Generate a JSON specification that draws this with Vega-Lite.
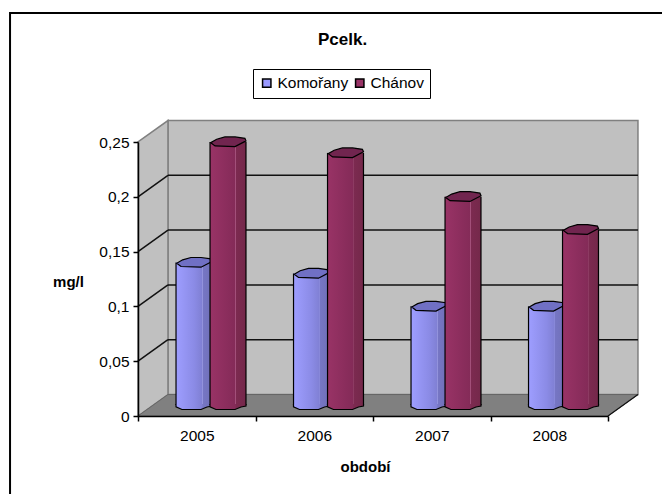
{
  "$schema": "https://vega.github.io/schema/vega-lite/v6.json",
  "autosize": "none",
  "width": 470,
  "height": 274,
  "padding": {"left": 138, "top": 142, "right": 54, "bottom": 78},
  "background": "white",
  "view": {"stroke": null},
  "config": {
    "font": "Liberation Sans",
    "legend": {"labelFont": "Liberation Sans", "labelFontSize": 15.5, "labelColor": "black"}
  },
  "title": {
    "text": "Pcelk.", "font": "Liberation Sans", "fontSize": 17, "fontWeight": "bold", "color": "black",
    "anchor": "start", "frame": "group", "dx": 180, "dy": 50, "baseline": "alphabetic", "offset": 0
  },
  "datasets": {
    "prumery": [
      {"rok": 2005, "stanice": "Komořany", "hodnota": 0.13},
      {"rok": 2006, "stanice": "Komořany", "hodnota": 0.12},
      {"rok": 2007, "stanice": "Komořany", "hodnota": 0.09},
      {"rok": 2008, "stanice": "Komořany", "hodnota": 0.09},
      {"rok": 2005, "stanice": "Chánov", "hodnota": 0.24},
      {"rok": 2006, "stanice": "Chánov", "hodnota": 0.23},
      {"rok": 2007, "stanice": "Chánov", "hodnota": 0.19},
      {"rok": 2008, "stanice": "Chánov", "hodnota": 0.16}
    ],
    "plocha": [{"nazev": "graf"}],
    "hloubka": [{"d": 0}, {"d": 1}],
    "mrizka": [{"t": 0.05}, {"t": 0.1}, {"t": 0.15}, {"t": 0.2}]
  },
  "resolve": {"scale": {"x": "independent"}, "axis": {"x": "independent"}},
  "layer": [
    {
      "layer": [
        {
          "name": "frame",
          "data": {"name": "plocha"},
          "mark": {"type": "rect", "fill": "white", "stroke": "black", "strokeWidth": 2, "clip": false},
          "encoding": {
            "x": {"datum": -1.089, "type": "quantitative", "scale": {"domain": [0, 4], "nice": false, "zero": false}, "axis": null},
            "x2": {"datum": 4.6},
            "y": {"datum": 0.3677, "type": "quantitative", "scale": {"domain": [0, 0.25], "nice": false, "zero": false}, "axis": {
              "values": [0, 0.05, 0.1, 0.15, 0.2, 0.25],
              "labelExpr": "replace('' + datum.value, '.', ',')",
              "grid": false, "zindex": 1, "domainColor": "black", "domainWidth": 1.5, "tickColor": "black", "tickWidth": 1.5, "tickSize": 5,
              "labelFont": "Liberation Sans", "labelFontSize": 15.5, "labelColor": "black", "labelPadding": 4,
              "title": "mg/l", "titleFont": "Liberation Sans", "titleFontSize": 15, "titleFontWeight": "bold", "titleColor": "black",
              "titleAngle": 0, "titleX": -70, "titleY": 144, "titleAlign": "center", "titleBaseline": "alphabetic"
            }},
            "y2": {"datum": -0.1}
          }
        },
        {
          "name": "backWall",
          "data": {"name": "plocha"},
          "mark": {"type": "rect", "fill": "#c0c0c0", "stroke": "#808080", "strokeWidth": 1.5},
          "encoding": {
            "x": {"datum": 0.255, "type": "quantitative"}, "x2": {"datum": 4.255},
            "y": {"datum": 0.0196, "type": "quantitative"}, "y2": {"datum": 0.2696}
          }
        },
        {
          "name": "sideWall",
          "data": {"name": "hloubka"},
          "transform": [
            {"calculate": "datum.d * 0.255", "as": "x"},
            {"calculate": "datum.d * 0.0196", "as": "y0"},
            {"calculate": "0.25 + datum.d * 0.0196", "as": "y1"}
          ],
          "mark": {"type": "area", "fill": "#c0c0c0", "stroke": "#808080", "strokeWidth": 1.5},
          "encoding": {
            "x": {"field": "x", "type": "quantitative"},
            "y": {"field": "y0", "type": "quantitative"}, "y2": {"field": "y1"}
          }
        },
        {
          "name": "floor",
          "data": {"name": "hloubka"},
          "transform": [
            {"calculate": "datum.d * 0.255", "as": "x0"},
            {"calculate": "4 + datum.d * 0.255", "as": "x1"},
            {"calculate": "datum.d * 0.0196", "as": "y"}
          ],
          "mark": {"type": "area", "orient": "horizontal", "fill": "#808080", "stroke": "#666666", "strokeWidth": 1},
          "encoding": {
            "y": {"field": "y", "type": "quantitative"},
            "x": {"field": "x0", "type": "quantitative"}, "x2": {"field": "x1"}
          }
        },
        {
          "name": "floorCorner",
          "data": {"name": "plocha"},
          "mark": {"type": "rule", "color": "#111111", "strokeWidth": 1.2},
          "encoding": {
            "x": {"datum": 4, "type": "quantitative"}, "x2": {"datum": 4.255},
            "y": {"datum": 0, "type": "quantitative"}, "y2": {"datum": 0.0196}
          }
        },
        {
          "name": "gridBack",
          "data": {"name": "mrizka"},
          "transform": [{"calculate": "datum.t + 0.0196", "as": "tz"}],
          "mark": {"type": "rule", "color": "#111111", "strokeWidth": 1.5},
          "encoding": {
            "x": {"datum": 0.255, "type": "quantitative"}, "x2": {"datum": 4.255},
            "y": {"field": "tz", "type": "quantitative"}
          }
        },
        {
          "name": "gridSide",
          "data": {"name": "mrizka"},
          "transform": [{"calculate": "datum.t + 0.0196", "as": "tz"}],
          "mark": {"type": "rule", "color": "#111111", "strokeWidth": 1.5},
          "encoding": {
            "x": {"datum": 0, "type": "quantitative"}, "x2": {"datum": 0.255},
            "y": {"field": "t", "type": "quantitative"}, "y2": {"field": "tz"}
          }
        },
        {
          "name": "legendKeys",
          "data": {"name": "prumery"},
          "transform": [
            {"calculate": "datum.rok - 2005 + (datum.stanice === 'Komořany' ? 0.4766 : 0.766)", "as": "xc"},
            {"calculate": "datum.xc - 0.153", "as": "xa"},
            {"calculate": "datum.xc + 0.153", "as": "xb"}
          ],
          "mark": {"type": "rect", "yOffset": -11, "y2Offset": -11},
          "encoding": {
            "x": {"field": "xa", "type": "quantitative"}, "x2": {"field": "xb"},
            "y": {"field": "hodnota", "type": "quantitative"}, "y2": {"datum": 0},
            "fill": {
              "field": "stanice", "type": "nominal",
              "scale": {"domain": ["Komořany", "Chánov"], "range": ["#9999ff", "#993366"]},
              "legend": {
                "orient": "none", "legendX": 115, "legendY": -73, "direction": "horizontal", "title": null,
                "symbolType": "square", "symbolSize": 70, "symbolStrokeColor": "black", "symbolStrokeWidth": 1.5,
                "fillColor": "white", "strokeColor": "black", "padding": 6, "columnPadding": 3, "labelOffset": 3
              }
            }
          }
        },
        {
          "name": "columnKomorany",
          "data": {"name": "prumery"},
          "transform": [
            {"filter": "datum.stanice === 'Komořany'"},
            {"calculate": "datum.rok - 2005 + 0.4766", "as": "xc"},
            {"calculate": "datum.xc - 0.153", "as": "xa"},
            {"calculate": "datum.xc + 0.153", "as": "xb"}
          ],
          "layer": [
            {
              "mark": {"type": "rect", "yOffset": -11, "y2Offset": -11, "fill": {
                "gradient": "linear", "x1": 0, "x2": 1, "y1": 0, "y2": 0,
                "stops": [
                  {"offset": 0, "color": "#9e9eff"}, {"offset": 0.5, "color": "#8b8be6"}, {"offset": 0.72, "color": "#8080d4"},
                  {"offset": 0.73, "color": "#a0a0e8"}, {"offset": 0.75, "color": "#7676c4"}, {"offset": 1, "color": "#7070b8"}
                ]
              }},
              "encoding": {
                "x": {"field": "xa", "type": "quantitative"}, "x2": {"field": "xb"},
                "y": {"field": "hodnota", "type": "quantitative"}, "y2": {"datum": 0}
              }
            },
            {
              "mark": {"type": "rule", "color": "black", "strokeWidth": 1.2, "yOffset": -11, "y2Offset": -11},
              "encoding": {"x": {"field": "xa", "type": "quantitative"}, "y": {"field": "hodnota", "type": "quantitative"}, "y2": {"datum": 0}}
            },
            {
              "mark": {"type": "rule", "color": "black", "strokeWidth": 1.2, "yOffset": -11, "y2Offset": -11},
              "encoding": {"x": {"field": "xb", "type": "quantitative"}, "y": {"field": "hodnota", "type": "quantitative"}, "y2": {"datum": 0}}
            },
            {
              "mark": {"type": "point", "filled": true, "size": 1296, "opacity": 1, "yOffset": -11, "stroke": "black", "strokeWidth": 1.2,
                "shape": "M-1,-0.06L-1,0.1L-0.67,0.25L0.39,0.25L0.72,0.11L1,0.06L1,-0.06",
                "fill": {
                  "gradient": "linear", "x1": 0, "x2": 1, "y1": 0, "y2": 0,
                  "stops": [
                    {"offset": 0, "color": "#9e9eff"}, {"offset": 0.5, "color": "#8b8be6"}, {"offset": 0.72, "color": "#8080d4"},
                    {"offset": 0.75, "color": "#7676c4"}, {"offset": 1, "color": "#7070b8"}
                  ]
                }},
              "encoding": {"x": {"field": "xc", "type": "quantitative"}, "y": {"datum": 0, "type": "quantitative"}}
            },
            {
              "mark": {"type": "point", "filled": true, "size": 1296, "opacity": 1, "yOffset": -11, "stroke": "black", "strokeWidth": 1.2, "fill": "#7070c4",
                "shape": "M-0.96,0.04L-0.72,0.22L0.39,0.26L1,-0.06L0.94,-0.2L0.39,-0.28L-0.17,-0.28L-0.63,-0.15Z"},
              "encoding": {"x": {"field": "xc", "type": "quantitative"}, "y": {"field": "hodnota", "type": "quantitative"}}
            }
          ]
        },
        {
          "name": "columnChanov",
          "data": {"name": "prumery"},
          "transform": [
            {"filter": "datum.stanice === 'Chánov'"},
            {"calculate": "datum.rok - 2005 + 0.766", "as": "xc"},
            {"calculate": "datum.xc - 0.153", "as": "xa"},
            {"calculate": "datum.xc + 0.153", "as": "xb"}
          ],
          "layer": [
            {
              "mark": {"type": "rect", "yOffset": -11, "y2Offset": -11, "fill": {
                "gradient": "linear", "x1": 0, "x2": 1, "y1": 0, "y2": 0,
                "stops": [
                  {"offset": 0, "color": "#993366"}, {"offset": 0.5, "color": "#8a2d5c"}, {"offset": 0.7, "color": "#842b58"},
                  {"offset": 0.71, "color": "#a85680"}, {"offset": 0.73, "color": "#7c2a50"}, {"offset": 1, "color": "#74284a"}
                ]
              }},
              "encoding": {
                "x": {"field": "xa", "type": "quantitative"}, "x2": {"field": "xb"},
                "y": {"field": "hodnota", "type": "quantitative"}, "y2": {"datum": 0}
              }
            },
            {
              "mark": {"type": "rule", "color": "black", "strokeWidth": 1.2, "yOffset": -11, "y2Offset": -11},
              "encoding": {"x": {"field": "xa", "type": "quantitative"}, "y": {"field": "hodnota", "type": "quantitative"}, "y2": {"datum": 0}}
            },
            {
              "mark": {"type": "rule", "color": "black", "strokeWidth": 1.2, "yOffset": -11, "y2Offset": -11},
              "encoding": {"x": {"field": "xb", "type": "quantitative"}, "y": {"field": "hodnota", "type": "quantitative"}, "y2": {"datum": 0}}
            },
            {
              "mark": {"type": "point", "filled": true, "size": 1296, "opacity": 1, "yOffset": -11, "stroke": "black", "strokeWidth": 1.2,
                "shape": "M-1,-0.06L-1,0.1L-0.67,0.25L0.39,0.25L0.72,0.11L1,0.06L1,-0.06",
                "fill": {
                  "gradient": "linear", "x1": 0, "x2": 1, "y1": 0, "y2": 0,
                  "stops": [
                    {"offset": 0, "color": "#993366"}, {"offset": 0.5, "color": "#8a2d5c"}, {"offset": 0.7, "color": "#842b58"},
                    {"offset": 0.73, "color": "#7c2a50"}, {"offset": 1, "color": "#74284a"}
                  ]
                }},
              "encoding": {"x": {"field": "xc", "type": "quantitative"}, "y": {"datum": 0, "type": "quantitative"}}
            },
            {
              "mark": {"type": "point", "filled": true, "size": 1296, "opacity": 1, "yOffset": -11, "stroke": "black", "strokeWidth": 1.2, "fill": "#71254f",
                "shape": "M-0.96,0.04L-0.72,0.22L0.39,0.26L1,-0.06L0.94,-0.2L0.39,-0.28L-0.17,-0.28L-0.63,-0.15Z"},
              "encoding": {"x": {"field": "xc", "type": "quantitative"}, "y": {"field": "hodnota", "type": "quantitative"}}
            }
          ]
        }
      ]
    },
    {
      "name": "categoryAxis",
      "data": {"name": "prumery"},
      "mark": {"type": "tick", "opacity": 0},
      "encoding": {
        "x": {"field": "rok", "type": "ordinal", "scale": {"paddingInner": 0, "paddingOuter": 0}, "axis": {
          "orient": "bottom", "tickBand": "extent", "labelAngle": 0, "zindex": 1,
          "domainColor": "black", "domainWidth": 1.5, "tickColor": "black", "tickWidth": 1.5, "tickSize": 5,
          "labelFont": "Liberation Sans", "labelFontSize": 15.5, "labelColor": "black", "labelPadding": 7,
          "title": "období", "titleFont": "Liberation Sans", "titleFontSize": 15, "titleFontWeight": "bold", "titleColor": "black",
          "titleX": 227, "titleY": 55, "titleBaseline": "alphabetic"
        }}
      }
    }
  ]
}
